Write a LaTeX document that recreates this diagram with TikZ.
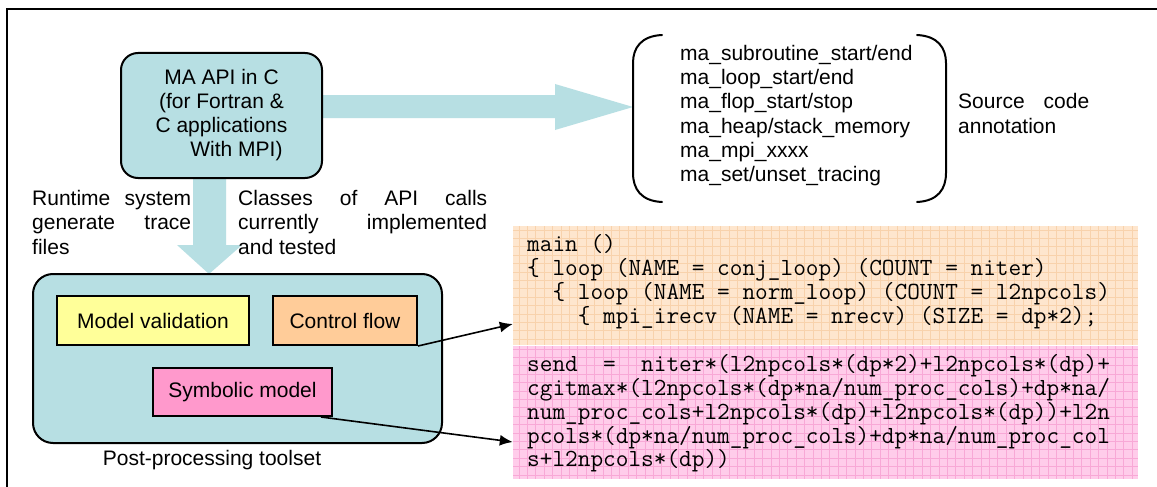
\documentclass[tikz,border=0pt]{standalone}
\usepackage{fontspec}
\setmainfont{Liberation Sans}
\usetikzlibrary{arrows.meta,calc}
\definecolor{lblue}{RGB}{183,223,227}
\definecolor{boxY}{RGB}{255,255,153}
\definecolor{boxO}{RGB}{255,204,153}
\definecolor{boxP}{RGB}{255,153,204}
\definecolor{codeO}{RGB}{254,230,206}
\definecolor{gridO}{RGB}{248,210,172}
\definecolor{codeP}{RGB}{255,204,234}
\definecolor{gridP}{RGB}{248,168,214}
\tikzset{
  txt/.style={inner sep=0, anchor=base west, font=\fontsize{21}{24}\selectfont},
  codeline/.style={inner sep=0, anchor=base west, font=\ttfamily\fontsize{24.6}{24}\selectfont},
  subbox/.style={draw, line width=2, inner sep=0, font=\fontsize{21}{24}\selectfont},
  blockarrow/.style={fill=lblue, draw=none},
  pointer/.style={line width=1.6, -{Latex[length=13pt,width=11pt]}},
  paren/.style={line width=2, line cap=round},
}
\begin{document}
\begin{tikzpicture}[x=1pt,y=-1pt]
\useasboundingbox (0,0) rectangle (1157,487);
\fill[white] (0,0) rectangle (1157,487);
% frame
\draw[line width=2.5] (1157,9) -- (7,9) -- (7,487);

% block arrows
\fill[blockarrow] (321,95) -- (555,95) -- (555,84) -- (633,107) -- (555,130) -- (555,118) -- (321,118) -- cycle;
\fill[blockarrow] (193,177) -- (193,245) -- (177,245) -- (209,274) -- (242,245) -- (226,245) -- (226,177) -- cycle;

% MA API box
\node[draw, line width=2, fill=lblue, rounded corners=17, minimum width=201, minimum height=125,
      align=center, inner sep=0, font=\fontsize{21}{24}\selectfont] (ma) at (221.5,115.5)
  {MA API in C\\(for Fortran \&\\C applications\\\hspace*{30pt}With MPI)};

% annotation list with brackets
\draw[paren] (662,35) .. controls (641,36) and (633,48) .. (633,63) -- (633,173) .. controls (633,189) and (641,201) .. (662,202);
\draw[paren] (917,35) .. controls (938,36) and (946,48) .. (946,63) -- (946,173) .. controls (946,189) and (938,201) .. (917,202);
\node[txt] (l1) at (680,60)    {ma\_subroutine\_start/end};
\node[txt] (l2) at (680,84.3)  {ma\_loop\_start/end};
\node[txt] (l3) at (680,108.6) {ma\_flop\_start/stop};
\node[txt] (l4) at (680,133)   {ma\_heap/stack\_memory};
\node[txt] (l5) at (680,157.2) {ma\_mpi\_xxxx};
\node[txt] (l6) at (680,181.5) {ma\_set/unset\_tracing};
\node[txt] (sc1) at (958,109) {\makebox[131pt]{Source\hfill code}};
\node[txt] (sc2) at (958,133) {annotation};

% side texts
\node[txt] (rt1) at (32,205) {\makebox[159pt]{Runtime\hfill system}};
\node[txt] (rt2) at (32,229) {\makebox[159pt]{generate\hfill trace}};
\node[txt] (rt3) at (32,254) {files};
\node[txt] (cl1) at (238,205) {\makebox[249pt]{Classes\hfill of\hfill API\hfill calls}};
\node[txt] (cl2) at (238,229) {\makebox[249pt]{currently\hfill implemented}};
\node[txt] (cl3) at (238,254) {and tested};

% post-processing toolset
\node[draw, line width=2, fill=lblue, rounded corners=20, minimum width=409, minimum height=169, inner sep=0] (post) at (237.5,358.5) {};
\node[subbox, fill=boxY, minimum width=192, minimum height=49] (mv) at (153,320.5) {Model validation};
\node[subbox, fill=boxO, minimum width=144, minimum height=49] (cf) at (345,320.5) {Control flow};
\node[subbox, fill=boxP, minimum width=179, minimum height=48] (sm) at (242.5,392) {Symbolic model};
\node[font=\fontsize{21}{24}\selectfont, inner sep=0] (postlabel) at (212,460) {Post-processing toolset};

% code boxes
\node[fill=codeO, minimum width=625, minimum height=119, inner sep=0] (code1) at (825.5,285.5) {};
\node[fill=codeP, minimum width=625, minimum height=134, inner sep=0] (code2) at (825.5,412) {};
\begin{scope}
\clip (513,226) rectangle (1138,345);
\foreach \gx in {519,527.4,...,1140} \draw[gridO, line width=0.7] (\gx,226) -- (\gx,345);
\foreach \gy in {230,238.4,...,346} \draw[gridO, line width=0.7] (513,\gy) -- (1138,\gy);
\end{scope}
\begin{scope}
\clip (513,345) rectangle (1138,479);
\foreach \gx in {519,527.4,...,1140} \draw[gridP, line width=0.7] (\gx,345) -- (\gx,479);
\foreach \gy in {349,357.4,...,480} \draw[gridP, line width=0.7] (513,\gy) -- (1138,\gy);
\end{scope}
\draw[white, line width=1] (513,345) -- (1138,345);

\node[codeline] (o1) at (527,251) {main ()};
\node[codeline] (o2) at (527,275) {\{ loop (NAME = conj\_loop) (COUNT = niter)};
\node[codeline] (o3) at (527,299) {\ \ \{ loop (NAME = norm\_loop) (COUNT = l2npcols)};
\node[codeline] (o4) at (527,323) {\ \ \ \ \{ mpi\_irecv (NAME = nrecv) (SIZE = dp*2);};
\node[codeline] (p1) at (527,371) {send\ \ =\ \ niter*(l2npcols*(dp*2)+l2npcols*(dp)+};
\node[codeline] (p2) at (527,395) {cgitmax*(l2npcols*(dp*na/num\_proc\_cols)+dp*na/};
\node[codeline] (p3) at (527,419) {num\_proc\_cols+l2npcols*(dp)+l2npcols*(dp))+l2n};
\node[codeline] (p4) at (527,443) {pcols*(dp*na/num\_proc\_cols)+dp*na/num\_proc\_col};
\node[codeline] (p5) at (527,466) {s+l2npcols*(dp))};

% pointers
\coordinate (t1) at (code1.west |- 0,324);
\coordinate (t2) at (code2.west |- 0,442);
\draw[pointer] (cf.south east) -- (t1);
\draw[pointer] ($(sm.south east)+(-12,0)$) -- (t2);
\end{tikzpicture}
\end{document}
